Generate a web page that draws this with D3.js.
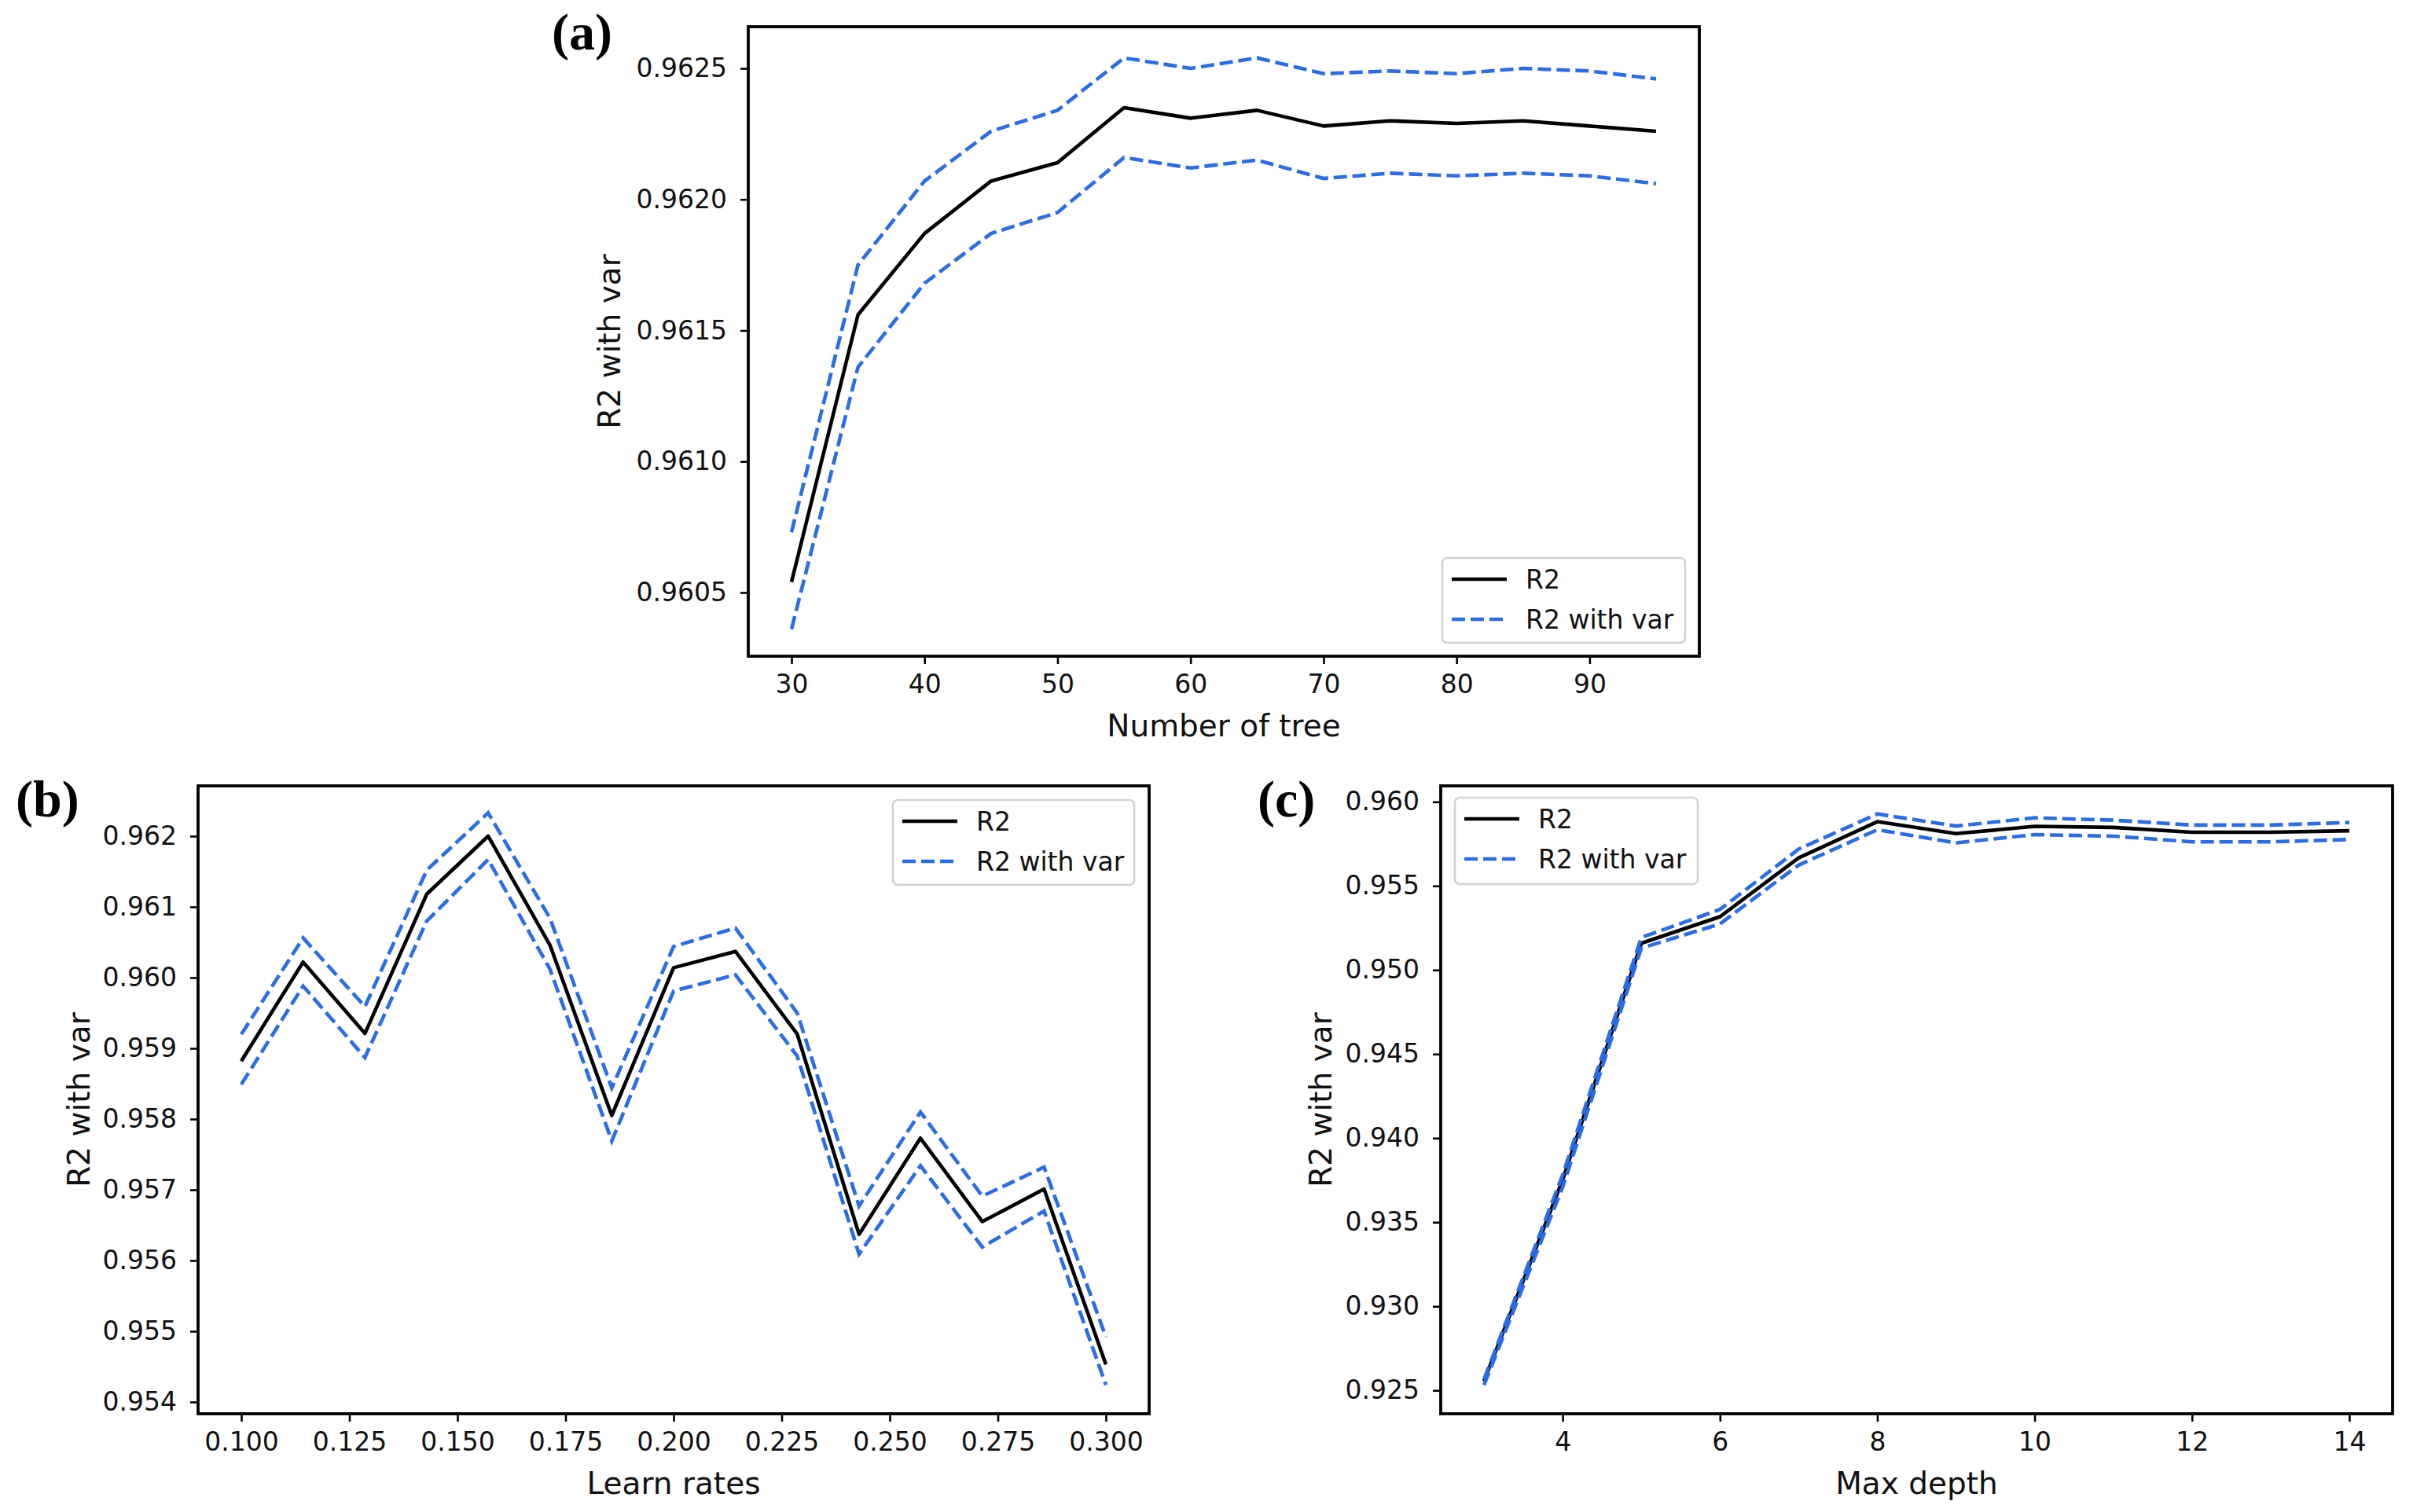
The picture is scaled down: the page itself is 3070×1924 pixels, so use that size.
<!DOCTYPE html>
<html><head><meta charset="utf-8">
<script src="https://cdn.jsdelivr.net/npm/d3@7/dist/d3.min.js"></script>
<style>html,body{margin:0;padding:0;background:#fff;} svg{display:block;}</style>
</head><body>
<svg id="chart" width="3070" height="1924"></svg>
<script>
// ---------- data ----------
const treeCounts = [30, 35, 40, 45, 50, 55, 60, 65, 70, 75, 80, 85, 90, 95];
const treeR2     = [0.96054, 0.96156, 0.96187, 0.96207, 0.96214, 0.96235, 0.96231, 0.96234, 0.96228, 0.96230, 0.96229, 0.96230, 0.96228, 0.96226];
const treeUpper  = [0.96073, 0.96175, 0.96207, 0.96226, 0.96234, 0.96254, 0.96250, 0.96254, 0.96248, 0.96249, 0.96248, 0.96250, 0.96249, 0.96246];
const treeLower  = [0.96036, 0.96136, 0.96168, 0.96187, 0.96195, 0.96216, 0.96212, 0.96215, 0.96208, 0.96210, 0.96209, 0.96210, 0.96209, 0.96206];
const treeXTicks = [30, 40, 50, 60, 70, 80, 90];
const treeYTicks = [0.9605, 0.9610, 0.9615, 0.9620, 0.9625];

const learnRates = [0.1, 0.1143, 0.1286, 0.1429, 0.1571, 0.1714, 0.1857, 0.2, 0.2143, 0.2286, 0.2429, 0.2571, 0.2714, 0.2857, 0.3];
const lrR2       = [0.95882, 0.96022, 0.95921, 0.96118, 0.96200, 0.96046, 0.95805, 0.96014, 0.96037, 0.95920, 0.95637, 0.95773, 0.95655, 0.95701, 0.95453];
const lrUpper    = [0.95920, 0.96056, 0.95959, 0.96152, 0.96233, 0.96084, 0.95844, 0.96044, 0.96070, 0.95950, 0.95677, 0.95810, 0.95691, 0.95732, 0.95492];
const lrLower    = [0.95849, 0.95988, 0.95887, 0.96080, 0.96167, 0.96012, 0.95769, 0.95981, 0.96004, 0.95889, 0.95609, 0.95734, 0.95619, 0.95670, 0.95424];
const lrXTicks   = [0.100, 0.125, 0.150, 0.175, 0.200, 0.225, 0.250, 0.275, 0.300];
const lrYTicks   = [0.954, 0.955, 0.956, 0.957, 0.958, 0.959, 0.960, 0.961, 0.962];

const depths     = [3, 4, 5, 6, 7, 8, 9, 10, 11, 12, 13, 14];
const depthR2    = [0.92555, 0.93752, 0.95159, 0.95317, 0.95667, 0.95882, 0.95811, 0.95854, 0.95848, 0.95819, 0.95819, 0.95828];
const depthUpper = [0.92566, 0.93781, 0.95193, 0.95360, 0.95719, 0.95928, 0.95856, 0.95905, 0.95891, 0.95862, 0.95862, 0.95877];
const depthLower = [0.92532, 0.93709, 0.95130, 0.95274, 0.95624, 0.95834, 0.95756, 0.95805, 0.95796, 0.95762, 0.95762, 0.95776];
const depthXTicks = [4, 6, 8, 10, 12, 14];
const depthYTicks = [0.925, 0.930, 0.935, 0.940, 0.945, 0.950, 0.955, 0.960];

const seriesNames = ["R2", "R2 with var"];
const yLabelText = "R2 with var";

// ---------- drawing ----------
const svg = d3.select("#chart");
svg.append("rect").attr("width", 3070).attr("height", 1924).attr("fill", "#fff");

const FONT = "'DejaVu Sans', sans-serif";
const BLUE = "#2a6de6";
const LW = 4.6;
const DASH = "17,7";

function panel(o) {
  const g = svg.append("g");
  const x = d3.scaleLinear().domain(o.xDomain).range([o.left, o.right]);
  const y = d3.scaleLinear().domain(o.yDomain).range([o.bottom, o.top]);

  const xAxis = d3.axisBottom(x).tickValues(o.xTicks).tickFormat(o.xFmt).tickSize(10).tickPadding(14);
  const yAxis = d3.axisLeft(y).tickValues(o.yTicks).tickFormat(o.yFmt).tickSize(10).tickPadding(17);

  const gx = g.append("g").attr("transform", `translate(0,${o.bottom})`).call(xAxis);
  const gy = g.append("g").attr("transform", `translate(${o.left},0)`).call(yAxis);
  [gx, gy].forEach(a => {
    a.select(".domain").remove();
    a.selectAll(".tick line").attr("stroke", "#000").attr("stroke-width", 2.6);
    a.selectAll(".tick text").attr("font-family", FONT).attr("font-size", 33).attr("fill", "#111");
  });

  const line = xs => d3.line().x((d, i) => x(xs[i])).y(d => y(d));

  g.append("path").datum(o.r2).attr("d", line(o.xs)).attr("fill", "none")
    .attr("stroke", "#000").attr("stroke-width", LW).attr("stroke-linejoin", "round");
  [o.upper, o.lower].forEach(s => {
    g.append("path").datum(s).attr("d", line(o.xs)).attr("fill", "none")
      .attr("stroke", BLUE).attr("stroke-width", LW).attr("stroke-dasharray", DASH);
  });

  // frame
  g.append("rect").attr("x", o.left).attr("y", o.top)
    .attr("width", o.right - o.left).attr("height", o.bottom - o.top)
    .attr("fill", "none").attr("stroke", "#000").attr("stroke-width", 3.8);

  // axis labels
  g.append("text").attr("x", (o.left + o.right) / 2).attr("y", o.bottom + 102)
    .attr("text-anchor", "middle").attr("font-family", FONT).attr("font-size", 39)
    .attr("fill", "#111").text(o.xLabel);
  g.append("text").attr("transform", `translate(${o.yLabelX},${(o.top + o.bottom) / 2}) rotate(-90)`)
    .attr("text-anchor", "middle").attr("dominant-baseline", "central")
    .attr("font-family", FONT).attr("font-size", 39).attr("fill", "#111").text(yLabelText);

  // panel letter
  g.append("text").attr("x", o.tagX).attr("y", o.tagY)
    .attr("font-family", "'Liberation Serif', 'Times New Roman', serif").attr("font-weight", "bold")
    .attr("font-size", 66).attr("fill", "#000").text(o.tag);

  // legend
  const L = o.legend;
  const lg = g.append("g");
  lg.append("rect").attr("x", L.x).attr("y", L.y).attr("width", L.w).attr("height", L.h)
    .attr("rx", 6).attr("fill", "#fff").attr("fill-opacity", 0.85)
    .attr("stroke", "#d2d2d2").attr("stroke-width", 2.5);
  const rows = [{ name: seriesNames[0], color: "#000", dash: null },
                { name: seriesNames[1], color: BLUE, dash: DASH }];
  rows.forEach((r, i) => {
    const cy = L.y + 27 + i * 51;
    lg.append("line").attr("x1", L.x + 12).attr("x2", L.x + 82).attr("y1", cy).attr("y2", cy)
      .attr("stroke", r.color).attr("stroke-width", LW).attr("stroke-dasharray", r.dash);
    lg.append("text").attr("x", L.x + 106).attr("y", cy).attr("dominant-baseline", "central")
      .attr("font-family", FONT).attr("font-size", 33).attr("fill", "#111").text(r.name);
  });
}

panel({
  left: 952, right: 2162, top: 34, bottom: 835,
  xDomain: [26.75, 98.25], yDomain: [0.960257, 0.962659],
  xs: treeCounts, r2: treeR2, upper: treeUpper, lower: treeLower,
  xTicks: treeXTicks, yTicks: treeYTicks,
  xFmt: d3.format("d"), yFmt: d3.format(".4f"),
  xLabel: "Number of tree", yLabelX: 775,
  tag: "(a)", tagX: 702, tagY: 63,
  legend: { x: 1835, y: 710, w: 309, h: 108 }
});

panel({
  left: 252, right: 1462, top: 1000, bottom: 1799,
  xDomain: [0.09, 0.31], yDomain: [0.953833, 0.962711],
  xs: learnRates, r2: lrR2, upper: lrUpper, lower: lrLower,
  xTicks: lrXTicks, yTicks: lrYTicks,
  xFmt: d3.format(".3f"), yFmt: d3.format(".3f"),
  xLabel: "Learn rates", yLabelX: 100,
  tag: "(b)", tagX: 20, tagY: 1039,
  legend: { x: 1136, y: 1018, w: 307, h: 108 }
});

panel({
  left: 1833, right: 3044, top: 1000, bottom: 1799,
  xDomain: [2.45, 14.55], yDomain: [0.92361, 0.96095],
  xs: depths, r2: depthR2, upper: depthUpper, lower: depthLower,
  xTicks: depthXTicks, yTicks: depthYTicks,
  xFmt: d3.format("d"), yFmt: d3.format(".3f"),
  xLabel: "Max depth", yLabelX: 1680,
  tag: "(c)", tagX: 1600, tagY: 1039,
  legend: { x: 1851, y: 1015, w: 309, h: 110 }
});
</script>
</body></html>
